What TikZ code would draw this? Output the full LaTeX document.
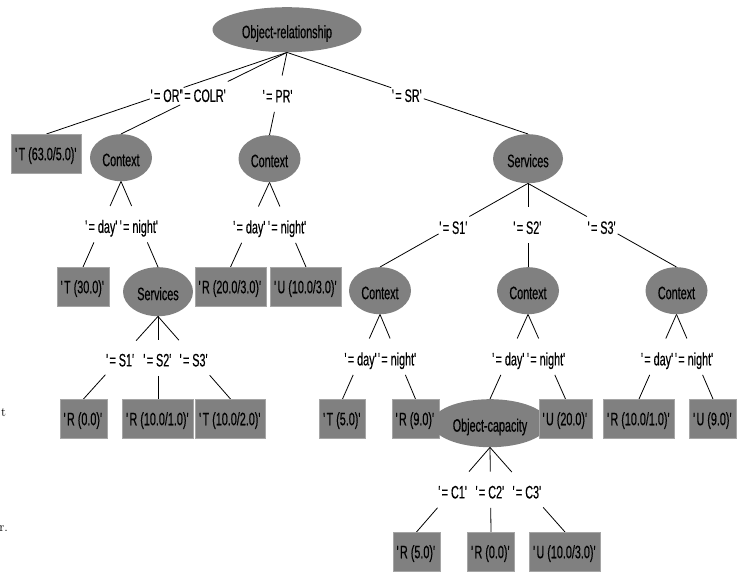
\documentclass[tikz,border=0pt]{standalone}
\usepackage{fontspec}
\usetikzlibrary{shapes.geometric,backgrounds}
\newfontfamily\wkfam[FakeStretch=0.6,FakeBold=0.4]{Liberation Sans}
\newcommand\wkf{\wkfam\fontsize{18pt}{20pt}\selectfont}
\newcommand\wq[1]{\textquotesingle#1\textquotesingle}
\definecolor{wekagray}{RGB}{128,128,128}
\definecolor{wekarim}{RGB}{165,165,165}
\newcommand\tedge[4]{%
  \path (#1.south) -- (#2.north) node[edgelbl,pos=0.5] (#3) {#4};
  \draw[conn] (#1.south) -- (#3) (#3) -- (#2.north);}
\begin{document}
\begin{tikzpicture}[x=1pt,y=-1pt,
  leafbox/.style={rectangle, fill=wekagray, draw=wekarim, line width=0.6pt,
    minimum height=39pt, inner xsep=3.5pt, inner ysep=0pt,
    text height=13.9pt, text depth=1pt, anchor=north, font=\wkf},
  splitnode/.style={ellipse, fill=wekagray, inner sep=0pt,
    text height=16.9pt, text depth=0pt, anchor=north, font=\wkf},
  ctxsize/.style={minimum width=62pt, minimum height=47pt},
  srvsize/.style={minimum width=70pt, minimum height=49pt},
  edgelbl/.style={rectangle, inner xsep=0.5pt, inner ysep=0pt,
    minimum height=36pt, text height=19.4pt, text depth=2pt, font=\wkf},
  conn/.style={draw=black, line width=0.8pt},
  stray/.style={inner sep=0pt, font=\fontsize{13pt}{15pt}\selectfont}
]
\useasboundingbox (0,0) rectangle (744,572);

% level 0
\node[splitnode, minimum width=149pt, minimum height=45pt] (root) at (287,7) {Object-relationship};
% level 1
\node[leafbox] (t63) at (46.5,134) {\wq{T (63.0/5.0)}};
\node[splitnode, ctxsize] (ctx1) at (121,134) {Context};
\node[splitnode, ctxsize] (ctx2) at (269.5,135) {Context};
\node[splitnode, srvsize] (srv1) at (528,134) {Services};
% level 2
\node[leafbox] (t30) at (83,267) {\wq{T (30.0)}};
\node[splitnode, srvsize] (srv2) at (158,267) {Services};
\node[leafbox] (r20) at (230.5,267) {\wq{R (20.0/3.0)}};
\node[leafbox] (u10) at (306,267) {\wq{U (10.0/3.0)}};
\node[splitnode, ctxsize] (ctxS1) at (380,267) {Context};
\node[splitnode, ctxsize] (ctxS2) at (528,267) {Context};
\node[splitnode, ctxsize] (ctxS3) at (676.5,267) {Context};
% level 3
\node[leafbox] (r00) at (83.5,399) {\wq{R (0.0)}};
\node[leafbox] (r101) at (158,399) {\wq{R (10.0/1.0)}};
\node[leafbox] (t102) at (230.5,399) {\wq{T (10.0/2.0)}};
\node[leafbox] (t5) at (342.5,399) {\wq{T (5.0)}};
\node[leafbox] (r9) at (415.5,399) {\wq{R (9.0)}};
\node[splitnode, minimum width=116pt, minimum height=48pt] (ocap) at (490,399) {Object-capacity};
\node[leafbox] (u20) at (565.5,399) {\wq{U (20.0)}};
\node[leafbox] (r1010) at (639,399) {\wq{R (10.0/1.0)}};
\node[leafbox] (u9) at (713,399) {\wq{U (9.0)}};
% level 4
\node[leafbox] (r5) at (416.5,532) {\wq{R (5.0)}};
\node[leafbox] (r0b) at (491,532) {\wq{R (0.0)}};
\node[leafbox] (u103) at (565,532) {\wq{U (10.0/3.0)}};

% stray fragments at the left edge
\node[stray, anchor=base west] (frag1) at (1,416) {t};
\node[stray, anchor=base east] (frag2) at (8,531) {r.};

\begin{scope}[on background layer]
  \fill[white] (0,0) rectangle (744,572);
  \tedge{root}{t63}{e1}{\wq{= OR}}
  \tedge{root}{ctx1}{e2}{\wq{= COLR}}
  \tedge{root}{ctx2}{e3}{\wq{= PR}}
  \tedge{root}{srv1}{e4}{\wq{= SR}}
  \tedge{ctx1}{t30}{e5}{\wq{= day}}
  \tedge{ctx1}{srv2}{e6}{\wq{= night}}
  \tedge{ctx2}{r20}{e7}{\wq{= day}}
  \tedge{ctx2}{u10}{e8}{\wq{= night}}
  \tedge{srv1}{ctxS1}{e9}{\wq{= S1}}
  \tedge{srv1}{ctxS2}{e10}{\wq{= S2}}
  \tedge{srv1}{ctxS3}{e11}{\wq{= S3}}
  \tedge{srv2}{r00}{e12}{\wq{= S1}}
  \tedge{srv2}{r101}{e13}{\wq{= S2}}
  \tedge{srv2}{t102}{e14}{\wq{= S3}}
  \tedge{ctxS1}{t5}{e15}{\wq{= day}}
  \tedge{ctxS1}{r9}{e16}{\wq{= night}}
  \tedge{ctxS2}{ocap}{e17}{\wq{= day}}
  \tedge{ctxS2}{u20}{e18}{\wq{= night}}
  \tedge{ctxS3}{r1010}{e19}{\wq{= day}}
  \tedge{ctxS3}{u9}{e20}{\wq{= night}}
  \tedge{ocap}{r5}{e21}{\wq{= C1}}
  \tedge{ocap}{r0b}{e22}{\wq{= C2}}
  \tedge{ocap}{u103}{e23}{\wq{= C3}}
\end{scope}
\end{tikzpicture}
\end{document}
